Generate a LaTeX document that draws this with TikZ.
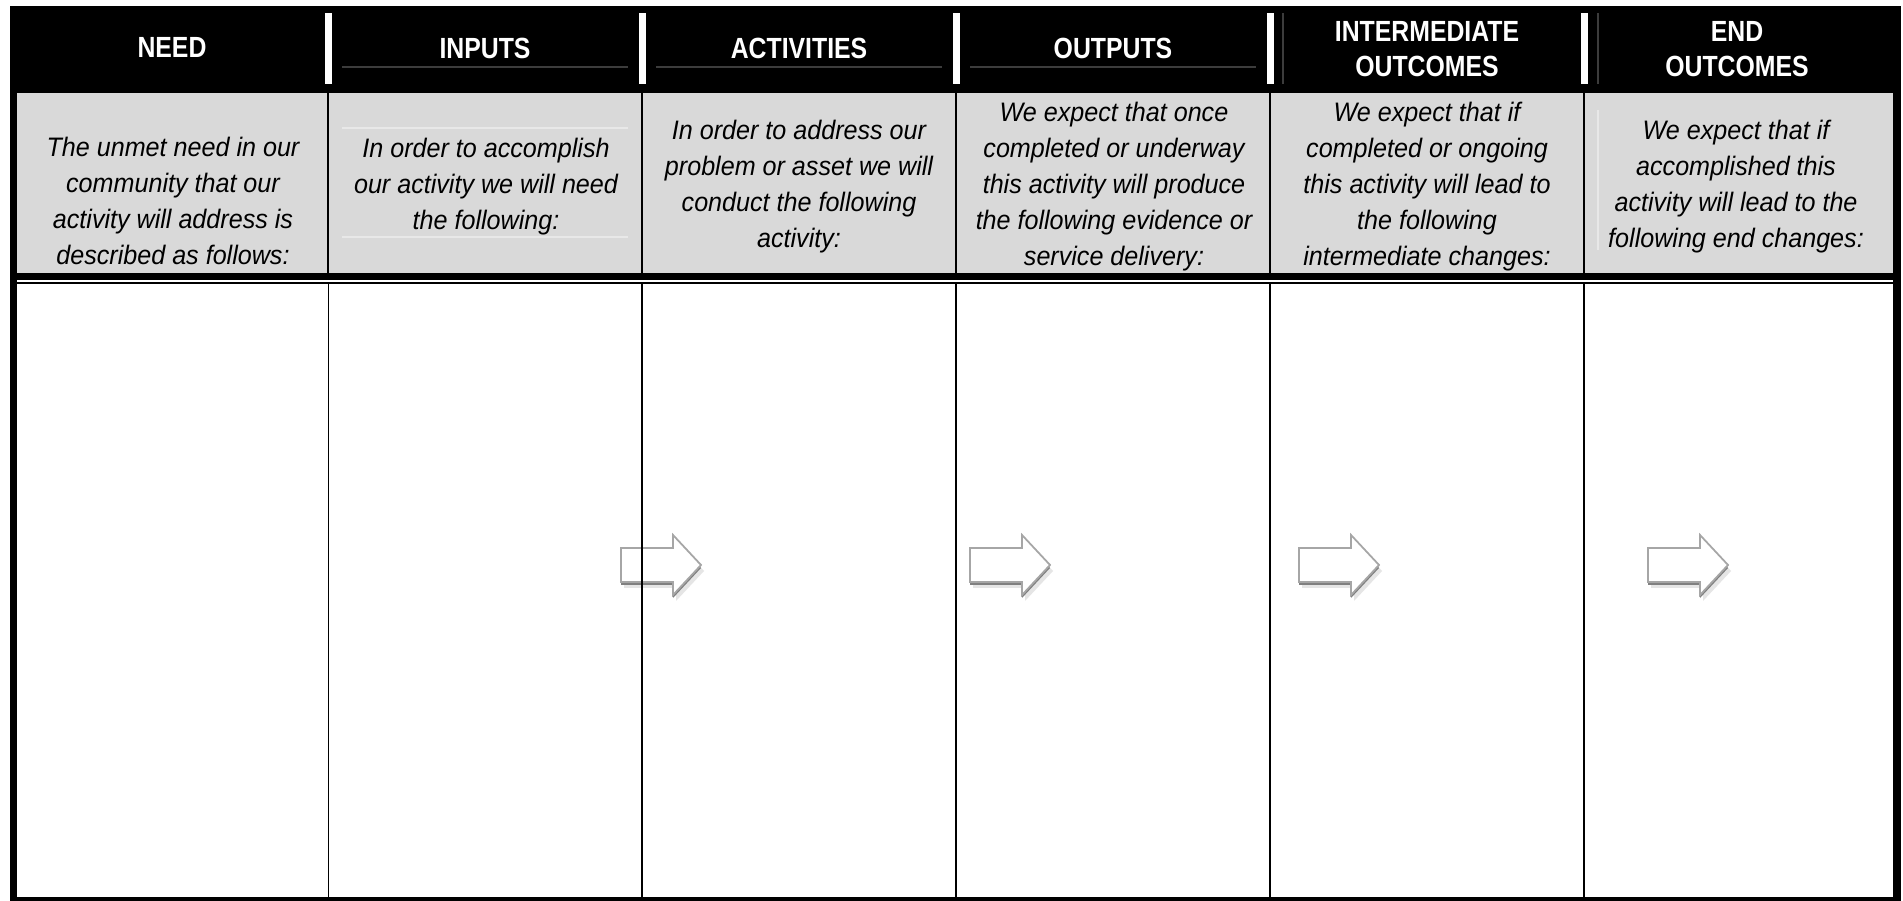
\documentclass[tikz,border=0pt]{standalone}
\usepackage{fontspec}
\usepackage{tikz}
\newfontfamily\headfont{Liberation Sans}[FakeStretch=0.85]
\newfontfamily\cellfont{Liberation Sans}[FakeStretch=0.94]
\definecolor{cellgray}{HTML}{D9D9D9}
\definecolor{ruleshade}{HTML}{3C3C3C}
\definecolor{faintrule}{HTML}{E8E8E8}

\begin{document}
\begin{tikzpicture}[x=0.01cm, y=-0.01cm,
    hdr/.style={text=white, inner sep=0pt, align=center,
      font=\headfont\bfseries\fontsize{8.3}{10.1}\selectfont},
    desc/.style={inner sep=0pt, align=center,
      font=\cellfont\itshape\fontsize{7.6}{10.24}\selectfont},
    arrowedge/.style={fill=white, draw=black!35, line width=0.5pt}]
    \useasboundingbox (0,0) rectangle (1903,901);
    % frame, grey band, body
    \fill[black] (10,6) rectangle (1901,901);
    \fill[cellgray] (17,93) rectangle (1893,273);
    \fill[white] (17,280) rectangle (1893,282);
    \fill[white] (17,284) rectangle (1893,897);

    % faint rules left over from the table cells
    \draw[ruleshade, line width=0.3pt] (342,67) -- (628,67) (656,67) -- (942,67) (970,67) -- (1256,67);
    \draw[ruleshade, line width=0.3pt] (1283,13) -- (1283,84) (1598,13) -- (1598,84);
    \draw[faintrule, line width=0.3pt] (342,128) -- (628,128) (342,237) -- (628,237) (1598,110) -- (1598,250);

    % header bars and column lines
    \foreach \cx in {328,642,956,1270,1584} {
      \fill[white] (\cx-3.5,13) rectangle (\cx+3.5,84);
      \draw[black, line width=0.3pt] (\cx,93) -- (\cx,273);
    }

    % block arrows
    \foreach \ax in {621,970,1299,1648} {
      \begin{scope}[shift={(\ax,0)}]
        \fill[black!10] (3,554) -- (55,554) -- (55,541) -- (83,571) -- (55,601) -- (55,588) -- (3,588) -- cycle;
        \fill[black!50] (0,551) -- (52,551) -- (52,538) -- (80,568) -- (52,598) -- (52,585) -- (0,585) -- cycle;
        \filldraw[arrowedge] (0,548) -- (52,548) -- (52,535) -- (80,565) -- (52,595) -- (52,582) -- (0,582) -- cycle;
      \end{scope}
    }

    \foreach \cx/\lw in {328/1, 642/2, 956/2, 1270/1.5, 1584/1.5}
      \draw[black, line width=\lw*0.2845pt] (\cx,284) -- (\cx,897);

    % headings
    \node[hdr, anchor=base] (need) at (172,58) {NEED};
    \node[hdr, anchor=base] (inputs) at (485,59) {INPUTS};
    \node[hdr, anchor=base] (activities) at (799,59) {ACTIVITIES};
    \node[hdr, anchor=base] (outputs) at (1113,59) {OUTPUTS};
    \node[hdr] (midout) at (1427,49) {INTERMEDIATE\\OUTCOMES};
    \node[hdr] (endout) at (1737,49) {END\\OUTCOMES};

    % questions
    \node[desc] (needtext) at (173,201) {The unmet need in our\\community that our\\activity will address is\\described as follows:};
    \node[desc] (inputstext) at (486,186.5) {In order to accomplish\\our activity we will need\\the following:};
    \node[desc] (activitiestext) at (799,186.5) {In order to address our\\problem or asset we will\\conduct the following\\activity:};
    \node[desc] (outputstext) at (1114,186.5) {We expect that once\\completed or underway\\this activity will produce\\the following evidence or\\service delivery:};
    \node[desc] (midouttext) at (1427,186.5) {We expect that if\\completed or ongoing\\this activity will lead to\\the following\\intermediate changes:};
    \node[desc] (endouttext) at (1736,186.5) {We expect that if\\accomplished this\\activity will lead to the\\following end changes:};
\end{tikzpicture}
\end{document}
